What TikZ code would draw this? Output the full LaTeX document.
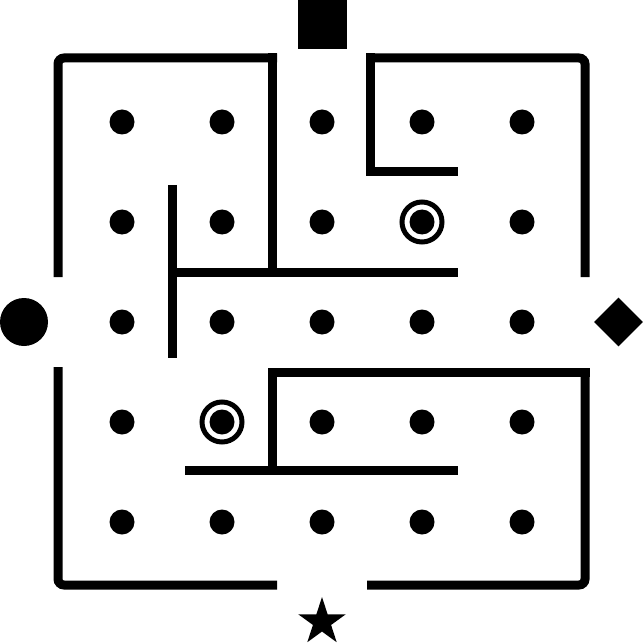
\documentclass[tikz,border=0pt]{standalone}
\usetikzlibrary{shapes.geometric}
\begin{document}
\begin{tikzpicture}[x=1pt,y=-1pt,
  wall/.style={line width=9pt, line cap=butt, line join=miter},
  roundwall/.style={wall, rounded corners=6pt},
  dotn/.style={circle, fill=black, inner sep=0pt, minimum size=25pt},
  ringn/.style={circle, draw=black, line width=5pt, inner sep=0pt, minimum size=40pt},
  markn/.style={fill=black, inner sep=0pt}]
\useasboundingbox (0,0) rectangle (644,644);
% outer walls
\draw[roundwall] (58,277) -- (58,58) -- (277,58);
\draw[roundwall] (366,58) -- (585,58) -- (585,277);
\draw[roundwall] (367,585) -- (585,585) -- (585,376.5);
\draw[roundwall] (277,585) -- (58,585) -- (58,367);
% inner walls
\draw[wall] (272,53.5) -- (272,272);
\draw[wall] (370,53.5) -- (370,172) -- (458,172);
\draw[wall] (172,185) -- (172,358);
\draw[wall] (172,272) -- (458,272);
\draw[wall] (589.5,372) -- (272,372) -- (272,470);
\draw[wall] (185,470) -- (458,470);
% dots
\foreach \i in {1,...,5}{
  \foreach \j in {1,...,5}{
    \node[dotn] (d\i\j) at ({22+100*\i},{22+100*\j}) {};
  }
}
% rings
\node[ringn] (r1) at (422,222) {};
\node[ringn] (r2) at (222,422) {};
% markers
\node[markn, rectangle, minimum size=49pt] (sq) at (322,24.5) {};
\node[markn, circle, minimum size=48pt] (ci) at (24,322) {};
\node[markn, diamond, minimum size=49pt] (di) at (618.5,322) {};
\node[markn, star, star points=5, star point ratio=2.618, minimum size=50pt] (st) at (322,622) {};
\end{tikzpicture}
\end{document}
